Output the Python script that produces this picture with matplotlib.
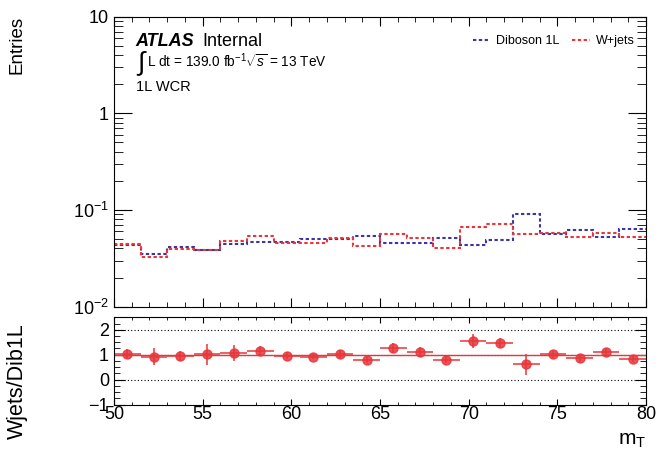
import numpy as np
import matplotlib
matplotlib.use("Agg")
import matplotlib.pyplot as plt
from matplotlib.ticker import FixedLocator, FixedFormatter, MultipleLocator, LogLocator, NullFormatter

plt.rcParams['font.family'] = ['Liberation Sans', 'DejaVu Sans']
plt.rcParams['mathtext.fontset'] = 'custom'
plt.rcParams['mathtext.rm'] = 'Liberation Sans'
plt.rcParams['mathtext.it'] = 'Liberation Sans:italic'
plt.rcParams['mathtext.bf'] = 'Liberation Sans:bold'

# binning m_T : 20 bins de 50 a 80
edges = np.linspace(50, 80, 21)

# contenus des histos (normalises)
diboson = [0.0431, 0.0351, 0.0414, 0.0383, 0.0449, 0.0464, 0.0472, 0.0498, 0.0497, 0.0542,
           0.0453, 0.0459, 0.0513, 0.0435, 0.0486, 0.0910, 0.0567, 0.0621, 0.0530, 0.0641]
wjets = [0.0449, 0.0324, 0.0395, 0.0390, 0.0478, 0.0542, 0.0455, 0.0459, 0.0511, 0.0425,
         0.0569, 0.0513, 0.0407, 0.0672, 0.0711, 0.0565, 0.0582, 0.0530, 0.0583, 0.0530]
ratio_err = [0.17, 0.34, 0.20, 0.42, 0.31, 0.17, 0.13, 0.10, 0.15, 0.12,
             0.20, 0.20, 0.14, 0.28, 0.20, 0.42, 0.14, 0.14, 0.16, 0.12]

ytick_vals = [1e-2, 1e-1, 1, 10]
ytick_labels = [r'$10^{-2}$', r'$10^{-1}$', '1', '10']

blue = '#3b36a0'
red = '#e8363a'

diboson = np.array(diboson)
wjets = np.array(wjets)
ratio = wjets / diboson
centers = 0.5 * (edges[1:] + edges[:-1])
half_w = 0.5 * (edges[1:] - edges[:-1])

fig = plt.figure(figsize=(6.6, 4.53), dpi=100)
ax1 = fig.add_axes([0.1727, 0.323, 0.8061, 0.6404])
ax2 = fig.add_axes([0.1727, 0.107, 0.8061, 0.1925])

# --- panneau du haut ---
ax1.stairs(diboson, edges, baseline=None, color=blue, lw=1.5, ls=(0, (1.6, 1.2)), label='Diboson 1L')
ax1.stairs(wjets, edges, baseline=None, color=red, lw=1.5, ls=(0, (1.6, 1.2)), label='W+jets')
ax1.set_yscale('log')
ax1.set_ylim(1e-2, 10)
ax1.set_xlim(50, 80)
ax1.yaxis.set_major_locator(FixedLocator(ytick_vals))
ax1.yaxis.set_major_formatter(FixedFormatter(ytick_labels))
ax1.yaxis.set_minor_locator(LogLocator(base=10, subs=np.arange(2, 10)))
ax1.yaxis.set_minor_formatter(NullFormatter())
ax1.xaxis.set_major_locator(MultipleLocator(5))
ax1.xaxis.set_minor_locator(MultipleLocator(1))
ax1.tick_params(axis='both', which='both', direction='in', top=True, right=True, labelbottom=False, labelsize=13)
ax1.tick_params(axis='y', which='major', length=13)
ax1.tick_params(axis='y', which='minor', length=6.5)
ax1.tick_params(axis='x', which='major', length=6.5)
ax1.tick_params(axis='x', which='minor', length=3.5)

ax1.legend(loc='upper right', ncol=2, frameon=False, fontsize=9, handlelength=1.4,
           handletextpad=0.5, columnspacing=1.0, bbox_to_anchor=(1.0, 0.975))

ax1.text(0.041, 0.899, 'ATLAS', transform=ax1.transAxes, fontsize=13, fontweight='bold', fontstyle='italic')
ax1.text(0.166, 0.899, 'Internal', transform=ax1.transAxes, fontsize=13)
ax1.text(0.041, 0.837, r'$\int$', transform=ax1.transAxes, fontsize=19, va='center')
ax1.text(0.062, 0.826, r'L dt = 139.0 fb$^{-1}$$\sqrt{s}$ = 13 TeV', transform=ax1.transAxes, fontsize=9.8)
ax1.text(0.041, 0.744, '1L WCR', transform=ax1.transAxes, fontsize=10.5)

# --- panneau ratio ---
for yv in [0, 1, 2]:
    ax2.axhline(yv, color='black', lw=0.8, ls=(0, (1, 2)))
ax2.axhline(1, color=red, lw=1)
ax2.errorbar(centers, ratio, xerr=half_w, yerr=ratio_err, fmt='o', color=red, ms=6.5,
             ecolor=red, elinewidth=1.3, alpha=0.85)
ax2.set_xlim(50, 80)
ax2.set_ylim(-1, 2.5)
ax2.yaxis.set_major_locator(MultipleLocator(1))
ax2.yaxis.set_minor_locator(MultipleLocator(0.25))
ax2.xaxis.set_major_locator(MultipleLocator(5))
ax2.xaxis.set_minor_locator(MultipleLocator(1))
ax2.tick_params(axis='both', which='both', direction='in', top=True, right=True, labelsize=13)
ax2.tick_params(axis='y', which='major', length=8)
ax2.tick_params(axis='y', which='minor', length=4)
ax2.tick_params(axis='x', which='major', length=4)
ax2.tick_params(axis='x', which='minor', length=2.5)
ax2.tick_params(axis='x', pad=1)

fig.text(0.026, 0.965, 'Entries', rotation=90, ha='center', va='top', fontsize=13.5)
fig.text(0.026, 0.158, 'Wjets/Dib1L', rotation=90, ha='center', va='center', fontsize=15.5)
fig.text(0.979, 0.018, r'm$_\mathrm{T}$', ha='right', va='baseline', fontsize=15)

fig.savefig('out.png', dpi=100)
